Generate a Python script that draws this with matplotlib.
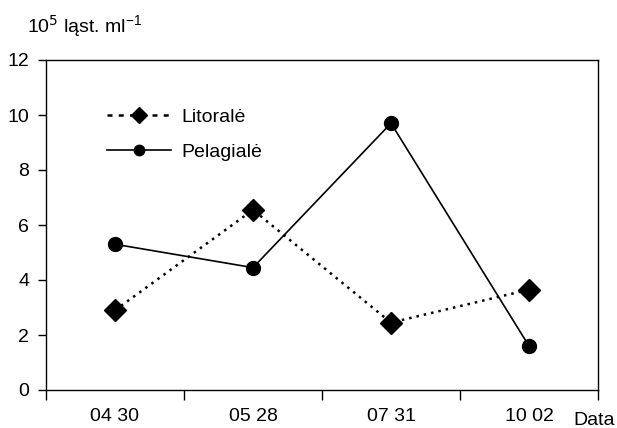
import matplotlib
matplotlib.use("Agg")
import matplotlib.pyplot as plt
import numpy as np

dates = ["04 30", "05 28", "07 31", "10 02"]
litorale = [2.9, 6.55, 2.45, 3.65]
pelagiale = [5.3, 4.45, 9.7, 1.6]

plt.rcParams['font.family'] = ['Liberation Sans', 'DejaVu Sans']
fig = plt.figure(figsize=(6.17, 4.28), dpi=100)
ax = fig.add_axes([46/617, 38/428, 552/617, 330/428])

x = np.arange(len(dates))
ax.plot(x, litorale, linestyle=(0, (1, 2)), color='black', lw=1.8,
        marker='D', markersize=11, label='Litoralė')
ax.plot(x, pelagiale, linestyle='-', color='black', lw=1.2,
        marker='o', markersize=10, label='Pelagialė')

ax.set_xlim(-0.5, len(dates) - 0.5)
ax.set_ylim(0, 12)
ax.set_yticks(range(0, 13, 2))
ax.set_xticks(x)
ax.set_xticklabels(dates)
ax.set_xticks(np.arange(-0.5, len(dates), 1.0), minor=True)
ax.tick_params(axis='x', which='major', length=0, pad=13, labelsize=14)
ax.tick_params(axis='x', which='minor', length=7, width=1)
ax.tick_params(axis='y', length=6, width=1, labelsize=14, pad=6)
for s in ax.spines.values():
    s.set_linewidth(1)

leg = ax.legend(loc='upper left', bbox_to_anchor=(0.11, 0.853), frameon=False,
                fontsize=14, handlelength=3.3, handletextpad=0.55, labelspacing=0.9,
                markerscale=0.75, borderpad=0, borderaxespad=0)
leg.get_lines()[0].set_linestyle((0, (2, 2.5)))

fig.text(27/617, 1 - 33/428, r'10$^{5}$ ląst. ml$^{\mathregular{-1}}$', fontsize=14,
         ha='left', va='baseline')
fig.text(573/617, 1 - 425/428, 'Data', fontsize=14, ha='left', va='baseline')

fig.savefig('out.png', dpi=100)
